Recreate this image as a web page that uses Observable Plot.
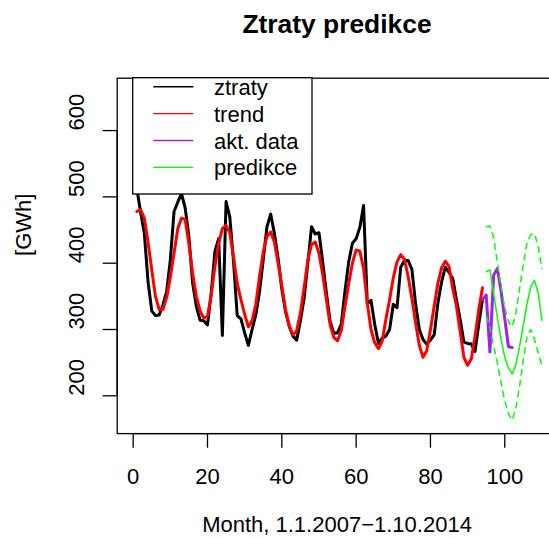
<!DOCTYPE html>
<html>
<head>
<meta charset="utf-8">
<script src="https://cdn.jsdelivr.net/npm/d3@7"></script>
<script src="https://cdn.jsdelivr.net/npm/@observablehq/plot@0.6"></script>
<style>
  html, body { margin: 0; padding: 0; background: #fff; overflow: hidden; }
  #chart { position: relative; width: 549px; height: 538px; overflow: hidden; }
  #chart > svg { max-width: none !important; }
</style>
</head>
<body>
<div id="chart"></div>
<script>
// Monthly grid losses [GWh], month 1 = January 2007
const ztratyStart = 1;
const ztraty = [
  512, 477, 445, 372, 328, 321, 322, 337, 357, 405, 478, 492,
  505, 483, 440, 370, 335, 314, 313, 307, 355, 418, 437, 291,
  493, 470, 403, 321, 316, 295, 276, 300, 322, 357, 405, 455,
  474, 445, 407, 361, 327, 305, 290, 284, 313, 347, 400, 455,
  444, 446, 402, 355, 312, 294, 295, 308, 358, 402, 430, 437,
  454, 487, 339, 344, 308, 279, 287, 290, 300, 338, 333, 394,
  404, 404, 391, 339, 300, 285, 278, 284, 292, 340, 372, 394,
  386, 377, 345, 315, 281, 279, 278, 267, 308, 345
];

// Fitted trend (seasonal model) over the same months
const trendStart = 1;
const trend = [
  478, 481, 468, 432, 390, 350, 330, 330, 348, 379, 415, 452,
  468, 466, 429, 385, 350, 328, 317, 320, 352, 395, 430, 452,
  457, 446, 410, 370, 345, 323, 304, 313, 338, 380, 417, 440,
  447, 432, 400, 366, 330, 305, 292, 298, 325, 363, 405, 428,
  432, 415, 383, 345, 307, 288, 283, 298, 335, 369, 400, 420,
  418, 392, 340, 300, 280, 271, 282, 315, 345, 378, 402, 413,
  406, 380, 347, 310, 276, 258, 268, 300, 335, 370, 393, 403,
  395, 362, 335, 297, 258, 246, 256, 290, 330, 363
];

// Newest measured months
const aktStart = 94;
const aktData = [345, 352, 266, 382, 392, 358, 316, 274, 273];

// Forecast with its interval bounds
const predStart = 95;
const predikce      = [387, 390, 355, 318, 285, 258, 242, 233, 247, 275, 307, 339, 365, 374, 355, 314];
const predikceHorni = [455, 456, 439, 400, 365, 333, 312, 304, 325, 362, 398, 432, 443, 445, 424, 392];
const predikceDolni = [320, 303, 275, 250, 220, 192, 173, 163, 182, 215, 255, 290, 300, 285, 265, 245];

const xTicks = [0, 20, 40, 60, 80, 100];
const yTicks = [200, 300, 400, 500, 600];
const xDomain = [-4.3, 114];
const yDomain = [143, 679];

const seriesNames  = ["ztraty", "trend", "akt. data", "predikce"];
const seriesColors = ["#000000", "#FF0000", "#A020F0", "#00FF00"];

const titleText = "Ztraty predikce";
const xLabel = "Month, 1.1.2007\u22121.10.2014";
const yLabel = "[GWh]";

const toRows = (values, start) => values.map((v, i) => ({month: start + i, value: v}));

const font = '"Liberation Sans", Arial, Helvetica, sans-serif';
const thick = {x: "month", y: "value", strokeWidth: 3, strokeLinejoin: "round", strokeLinecap: "round"};
const thin = {x: "month", y: "value", strokeWidth: 1.5, stroke: seriesColors[3]};

const chart = Plot.plot({
  width: 560,
  height: 538,
  marginLeft: 116.7,
  marginRight: 3.7,
  marginTop: 77.7,
  marginBottom: 104.9,
  x: {domain: xDomain},
  y: {domain: yDomain},
  style: {fontFamily: font, fontSize: "22px", background: "white", color: "black", overflow: "visible", maxWidth: "none"},
  marks: [
    Plot.line(toRows(ztraty, ztratyStart), {...thick, stroke: seriesColors[0]}),
    Plot.line(toRows(trend, trendStart), {...thick, stroke: seriesColors[1]}),
    Plot.line(toRows(aktData, aktStart), {...thick, stroke: seriesColors[2]}),
    Plot.line(toRows(predikce, predStart), thin),
    Plot.line(toRows(predikceHorni, predStart), {...thin, strokeDasharray: "5.5,5.5"}),
    Plot.line(toRows(predikceDolni, predStart), {...thin, strokeDasharray: "5.5,5.5"}),
    Plot.frame({stroke: "black", strokeWidth: 1.3}),
    // axis lines spanning first to last tick
    Plot.ruleY([yDomain[0]], {x1: d3.min(xTicks), x2: d3.max(xTicks), stroke: "black", strokeWidth: 1.3}),
    Plot.ruleX([xDomain[0]], {y1: d3.min(yTicks), y2: d3.max(yTicks), stroke: "black", strokeWidth: 1.3}),
    Plot.axisX({ticks: xTicks, tickSize: 14.6, tickPadding: 19.7, label: null, stroke: "black", strokeWidth: 1.3}),
    Plot.axisY({ticks: yTicks, tickSize: 14, tickFormat: () => "", label: null, stroke: "black", strokeWidth: 1.3}),
    Plot.text(yTicks, {y: d => d, text: d => String(d), frameAnchor: "left", dx: -33.7, rotate: -90, lineAnchor: "bottom", fill: "black"}),
    Plot.text([yLabel], {frameAnchor: "left", dx: -86, rotate: -90, lineAnchor: "bottom", fill: "black"}),
    Plot.text([xLabel], {frameAnchor: "bottom", dy: 98.5, lineAnchor: "bottom", fill: "black"}),
    Plot.text([titleText], {frameAnchor: "top", dy: -44.7, lineAnchor: "bottom", fontWeight: "bold", fontSize: 26.4, fill: "black"})
  ]
});

const host = document.getElementById("chart");
host.appendChild(chart);

// Legend box in the top-left corner of the plot region
const pad = 10;
const legend = d3.create("svg")
  .attr("width", 182)
  .attr("height", 119 + pad)
  .style("position", "absolute")
  .style("left", "132px")
  .style("top", `${77 - pad}px`)
  .style("overflow", "visible")
  .style("font-family", font)
  .style("font-size", "22px");

const body = legend.append("g").attr("transform", `translate(0,${pad})`);

body.append("rect")
  .attr("x", 0.7).attr("y", 0.7)
  .attr("width", 179.3).attr("height", 116.3)
  .attr("fill", "white").attr("stroke", "black").attr("stroke-width", 1.3);

const rows = body.selectAll("g.row")
  .data(seriesNames)
  .join("g")
  .attr("class", "row")
  .attr("transform", (d, i) => `translate(0,${9.7 + i * 26.9})`);

rows.append("line")
  .attr("x1", 21.3).attr("x2", 61.3)
  .attr("stroke", (d, i) => seriesColors[i])
  .attr("stroke-width", 1.4);

rows.append("text")
  .attr("x", 82)
  .attr("y", 8)
  .attr("fill", "black")
  .text(d => d);

host.appendChild(legend.node());
</script>
</body>
</html>
